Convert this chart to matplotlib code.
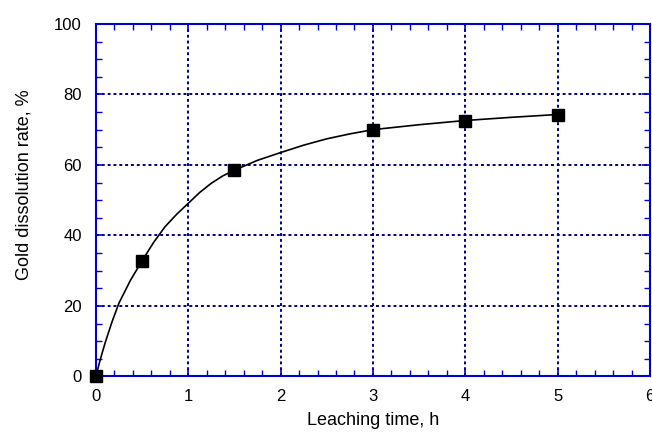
import matplotlib
matplotlib.use("Agg")
import matplotlib.pyplot as plt
from matplotlib.ticker import MultipleLocator

# measured points
time_h = [0, 0.5, 1.5, 3, 4, 5]
dissolution = [0, 32.8, 58.5, 70.0, 72.5, 74.2]

# fitted curve
curve_t = [0, 0.05, 0.1, 0.175, 0.25, 0.375, 0.5, 0.625, 0.75, 0.875, 1.0, 1.125,
           1.25, 1.375, 1.5, 1.75, 2.0, 2.25, 2.5, 2.75, 3.0, 3.5, 4.0, 4.5, 5.0]
curve_y = [0, 5.0, 9.5, 15.5, 20.8, 27.3, 32.8, 38.0, 42.5, 46.0, 49.1, 52.2,
           54.8, 56.9, 58.5, 61.3, 63.5, 65.6, 67.4, 68.8, 70.0, 71.4, 72.6, 73.5, 74.3]

plt.rcParams['font.family'] = ['Liberation Sans', 'DejaVu Sans']

fig = plt.figure(figsize=(6.52, 4.34), dpi=100)
ax = fig.add_axes([0.147, 0.1325, 0.85, 0.8125])

ax.plot(curve_t, curve_y, color='black', linewidth=1.2, zorder=3)
ax.plot(time_h, dissolution, linestyle='none', marker='s', markersize=9,
        color='black', zorder=4, clip_on=False)

ax.set_xlim(0, 6)
ax.set_ylim(0, 100)
ax.xaxis.set_major_locator(MultipleLocator(1))
ax.xaxis.set_minor_locator(MultipleLocator(0.2))
ax.yaxis.set_major_locator(MultipleLocator(20))
ax.yaxis.set_minor_locator(MultipleLocator(5))

ax.grid(True, which='major', color='#000080', linestyle=(0, (1.5, 1.5)), linewidth=1.4)

for spine in ax.spines.values():
    spine.set_color('#0000CC')
    spine.set_linewidth(1.5)

ax.tick_params(which='both', direction='in', top=True, right=True, color='#0000CC',
               labelcolor='black', labelsize=12)
ax.tick_params(which='major', length=6, width=1.2)
ax.tick_params(which='minor', length=4, width=1.0)
ax.tick_params(axis='x', pad=9)
ax.tick_params(axis='y', pad=10)

ax.set_xlabel('Leaching time, h', fontsize=13, labelpad=6)
ax.set_ylabel('Gold dissolution rate, %', fontsize=13)
ax.yaxis.set_label_coords(-0.115, 0.545)

fig.savefig('out.png', dpi=100)
